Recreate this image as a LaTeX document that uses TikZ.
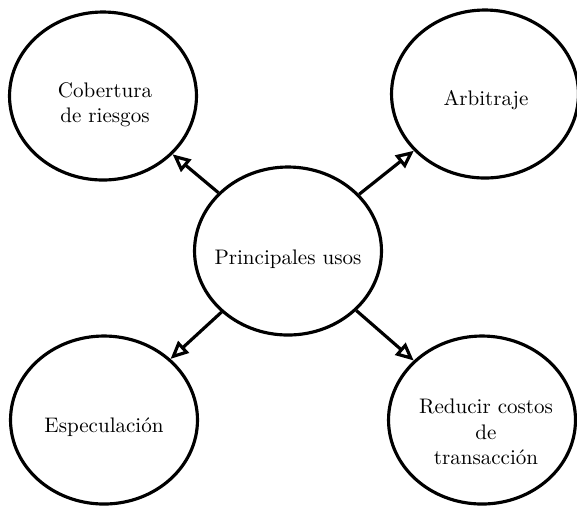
\documentclass[tikz,border=0pt]{standalone}
\usetikzlibrary{shapes.geometric,arrows.meta}
\begin{document}
\begin{tikzpicture}[x=0.475pt,y=-0.475pt,
  bubble/.style={ellipse, draw, line width=1.5pt, minimum width=88.8pt, minimum height=79.8pt, inner sep=0pt},
  lbl/.style={align=center, inner sep=0pt},
  link/.style={line width=1.5pt, -{Triangle[open,length=8.5pt,width=7.5pt]}}]
\useasboundingbox (0,0) rectangle (577,506);
% bubbles
\node[bubble] (hub) at (288,251) {};
\node[bubble] (cob) at (103,96) {};
\node[bubble] (arb) at (485,94) {};
\node[bubble] (esp) at (104,420) {};
\node[bubble] (red) at (482,420) {};
% labels
\node[lbl] (hubt) at (288,259) {Principales usos};
\node[lbl] (cobt) at (105,105) {Cobertura\\de riesgos};
\node[lbl] (arbt) at (486,100) {Arbitraje};
\node[lbl] (espt) at (104,427) {Especulación};
\node[lbl] (redt) at (486,432) {Reducir costos\\de\\transacción};
% connectors
\draw[link] (hub) -- (cob);
\draw[link] (hub) -- (arb);
\draw[link] (hub) -- (esp);
\draw[link] (hub) -- (red);
\end{tikzpicture}
\end{document}
